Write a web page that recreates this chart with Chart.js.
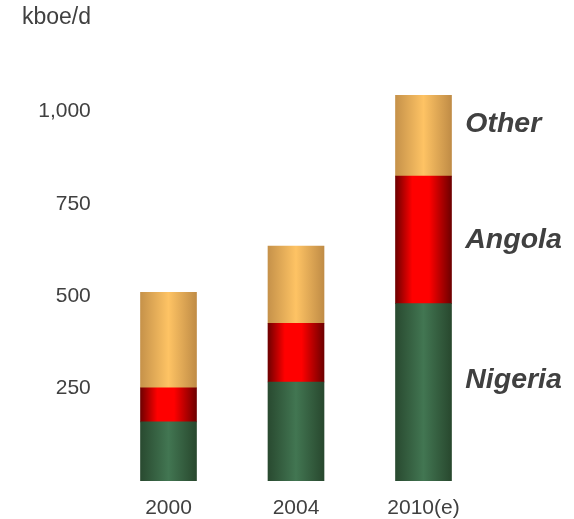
<!DOCTYPE html>
<html><head><meta charset="utf-8">
<script src="https://cdn.jsdelivr.net/npm/chart.js@4/dist/chart.umd.min.js"></script>
<style>html,body{margin:0;padding:0;background:#fff}#wrap{width:574px;height:519px}</style>
</head><body><div id="wrap"><canvas id="c" width="574" height="519"></canvas></div>
<script>
const categories = ['2000', '2004', '2010(e)'];
const nigeria = [160, 268, 480];
const angola = [92, 159, 345];
const other = [259, 209, 219];
const yTickValues = [250, 500, 750, 1000];
const seriesNames = ['Nigeria', 'Angola', 'Other'];
const seriesLabelTicks = [272, 652, 966];
const unitLabel = 'kboe/d';

const TEXT = '#404040';
const FONT = "'Liberation Sans', Arial, sans-serif";
const BAR_W = 56;

function grad(stops) {
  return (ctx) => {
    const chart = ctx.chart;
    const xs = chart.scales && chart.scales.x;
    const fallback = stops[Math.floor(stops.length/2)][1];
    if (!xs || ctx.dataIndex === undefined) return fallback;
    const cx = xs.getPixelForValue(ctx.dataIndex);
    if (!isFinite(cx)) return fallback;
    const g = chart.ctx.createLinearGradient(cx - BAR_W/2, 0, cx + BAR_W/2, 0);
    stops.forEach(s => g.addColorStop(s[0], s[1]));
    return g;
  };
}
const greenStops = [[0,'#294a30'],[0.5,'#427652'],[1,'#28482e']];
const redStops = [[0,'#700000'],[0.3,'#ff0000'],[0.6,'#ff0000'],[1,'#6e0000']];
const orangeStops = [[0,'#c6924a'],[0.5,'#fec364'],[1,'#c08c46']];

// Draw series names using the right-hand y2 scale's tick positions (labels not clipped to the axis box)
const seriesLabelPlugin = {
  id: 'seriesLabels',
  afterDraw(chart) {
    const s = chart.scales.y2;
    const c = chart.ctx;
    c.save();
    c.fillStyle = TEXT;
    c.font = "italic bold 28.5px " + FONT;
    c.textAlign = 'left';
    c.textBaseline = 'middle';
    s.ticks.forEach((t, i) => {
      c.fillText(seriesNames[i], chart.chartArea.right - 22, s.getPixelForValue(t.value));
    });
    c.restore();
  }
};

new Chart(document.getElementById('c'), {
  type: 'bar',
  data: {
    labels: categories,
    datasets: [
      { label: seriesNames[0], data: nigeria, backgroundColor: grad(greenStops), barThickness: BAR_W, borderWidth: 0 },
      { label: seriesNames[1], data: angola, backgroundColor: grad(redStops), barThickness: BAR_W, borderWidth: 0 },
      { label: seriesNames[2], data: other, backgroundColor: grad(orangeStops), barThickness: BAR_W, borderWidth: 0 }
    ]
  },
  plugins: [seriesLabelPlugin],
  options: {
    responsive: false,
    animation: false,
    devicePixelRatio: 1,
    layout: { padding: { left: 22, right: 0, top: 0, bottom: 0 } },
    plugins: {
      legend: { display: false },
      tooltip: { enabled: false },
      title: {
        display: true, text: unitLabel, align: 'start', color: TEXT,
        font: { family: FONT, size: 23, weight: 'normal' },
        padding: { top: 4, bottom: 43 }
      }
    },
    scales: {
      x: {
        stacked: true,
        grid: { display: false, drawTicks: false },
        border: { display: false },
        ticks: { color: TEXT, font: { family: FONT, size: 21 }, padding: 15 },
        afterFit: s => { s.height = 38; }
      },
      y: {
        stacked: true, min: 0, max: 1100,
        grid: { display: false, drawTicks: false },
        border: { display: false },
        afterBuildTicks: s => { s.ticks = yTickValues.map(v => ({ value: v })); },
        ticks: { color: TEXT, font: { family: FONT, size: 21 }, padding: 14 },
        afterFit: s => { s.width = 82.75; }
      },
      y2: {
        position: 'right', min: 0, max: 1100,
        grid: { display: false, drawTicks: false },
        border: { display: false },
        afterBuildTicks: s => { s.ticks = seriesLabelTicks.map(v => ({ value: v })); },
        ticks: { display: false },
        afterFit: s => { s.width = 86.75; }
      }
    }
  }
});
</script>
</body></html>
